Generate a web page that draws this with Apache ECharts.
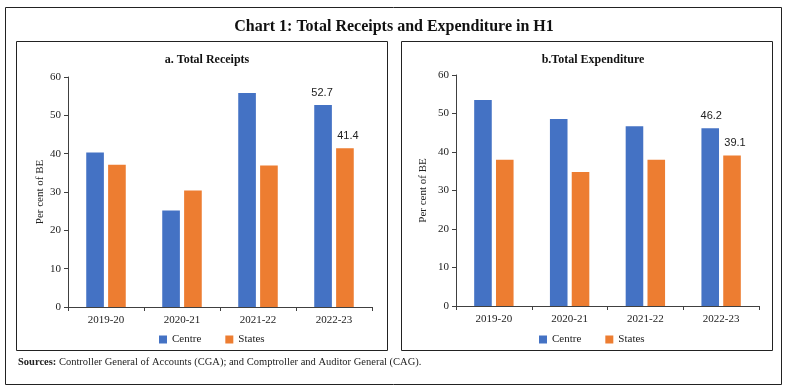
<!DOCTYPE html>
<html><head><meta charset="utf-8">
<script src="https://cdn.jsdelivr.net/npm/echarts@6/dist/echarts.min.js"></script>
<style>html,body{margin:0;padding:0;background:#fff}#c{width:788px;height:391px}</style>
</head><body><div id="c"></div>
<script>
const categories = ['2019-20', '2020-21', '2021-22', '2022-23'];
const receiptsCentre = [40.3, 25.2, 55.8, 52.7];
const receiptsStates = [37.1, 30.4, 36.9, 41.4];
const expenditureCentre = [53.5, 48.6, 46.7, 46.2];
const expenditureStates = [38.0, 34.8, 38.0, 39.1];
const yTicks = [0, 10, 20, 30, 40, 50, 60];
const seriesNames = ['Centre', 'States'];
const mainTitle = 'Chart 1: Total Receipts and Expenditure in H1';
const panelTitles = ['a. Total Receipts', 'b.Total Expenditure'];
const yName = 'Per cent of BE';
const sourceLabel = 'Sources:';
const sourceText = ' Controller General of Accounts (CGA); and Comptroller and Auditor General (CAG).';

const BLUE = '#4472C4', ORANGE = '#ED7D31';
const SERIF = '"Liberation Serif", "DejaVu Serif", serif';
const AX = '#404040';

const chart = echarts.init(document.getElementById('c'), null, {renderer: 'canvas'});

function xAxis(gi) {
  return {
    type: 'category', gridIndex: gi, data: categories,
    axisLine: {lineStyle: {color: AX, width: 1}},
    axisTick: {show: true, length: 4, lineStyle: {color: AX}},
    axisLabel: {color: '#222', fontFamily: SERIF, fontSize: 11, margin: 8}
  };
}
function yAxis(gi, gap) {
  return {
    type: 'value', gridIndex: gi, min: yTicks[0], max: yTicks[yTicks.length - 1], interval: 10,
    name: yName, nameLocation: 'middle', nameGap: gap, nameRotate: 90,
    nameTextStyle: {color: '#222', fontFamily: SERIF, fontSize: 11},
    axisLine: {show: true, lineStyle: {color: AX, width: 1}},
    axisTick: {show: true, length: 4, lineStyle: {color: AX}},
    splitLine: {show: false},
    axisLabel: {color: '#222', fontFamily: SERIF, fontSize: 11, margin: 7}
  };
}
function bar(name, data, gi, color, dx) {
  return {
    type: 'bar', name: name, data: data, xAxisIndex: gi, yAxisIndex: gi,
    barGap: '24%', barCategoryGap: '48%',
    itemStyle: {color: color},
    label: {
      show: true, position: 'top', distance: 7, offset: [dx, 0],
      color: '#222', fontFamily: '"Liberation Sans", Arial, sans-serif', fontSize: 11,
      formatter: p => p.dataIndex === categories.length - 1 ? p.value.toFixed(1) : ''
    }
  };
}

chart.setOption({
  animation: false,
  title: [
    {text: mainTitle, left: 'center', top: 14,
     textStyle: {fontFamily: SERIF, fontSize: 16, fontWeight: 'bold', color: '#111'}},
    {text: panelTitles[0], left: 202, textAlign: 'center', top: 49,
     textStyle: {fontFamily: SERIF, fontSize: 12, fontWeight: 'bold', color: '#111'}},
    {text: panelTitles[1], left: 588, textAlign: 'center', top: 49,
     textStyle: {fontFamily: SERIF, fontSize: 12, fontWeight: 'bold', color: '#111'}}
  ],
  legend: [
    {data: seriesNames, left: 154, top: 329, itemWidth: 8, itemHeight: 8, itemGap: 24,
     icon: 'rect', textStyle: {fontFamily: SERIF, fontSize: 11, color: '#222'}},
    {data: seriesNames, left: 534, top: 329, itemWidth: 8, itemHeight: 8, itemGap: 24,
     icon: 'rect', textStyle: {fontFamily: SERIF, fontSize: 11, color: '#222'}}
  ],
  grid: [
    {left: 68, right: 416, top: 77, bottom: 84},
    {left: 456, right: 29, top: 75, bottom: 85}
  ],
  xAxis: [xAxis(0), xAxis(1)],
  yAxis: [yAxis(0, 21), yAxis(1, 27)],
  series: [
    bar(seriesNames[0], receiptsCentre, 0, BLUE, -1),
    bar(seriesNames[1], receiptsStates, 0, ORANGE, 3),
    bar(seriesNames[0], expenditureCentre, 1, BLUE, 1),
    bar(seriesNames[1], expenditureStates, 1, ORANGE, 3)
  ],
  graphic: [
    {type: 'rect', shape: {x: 5.5, y: 7.5, width: 776, height: 377}, style: {fill: 'none', stroke: '#222', lineWidth: 1}, silent: true},
    {type: 'rect', shape: {x: 16.5, y: 41.5, width: 371, height: 309}, style: {fill: 'none', stroke: '#222', lineWidth: 1}, silent: true},
    {type: 'rect', shape: {x: 401.5, y: 41.5, width: 371, height: 309}, style: {fill: 'none', stroke: '#222', lineWidth: 1}, silent: true},
    {type: 'text', left: 18, top: 357, style: {
      text: '{b|' + sourceLabel + '}' + sourceText,
      font: '10.5px ' + SERIF, fill: '#222',
      rich: {b: {fontWeight: 'bold', fontFamily: SERIF, fontSize: 10.5, fill: '#222'}}
    }}
  ]
});
</script></body></html>
